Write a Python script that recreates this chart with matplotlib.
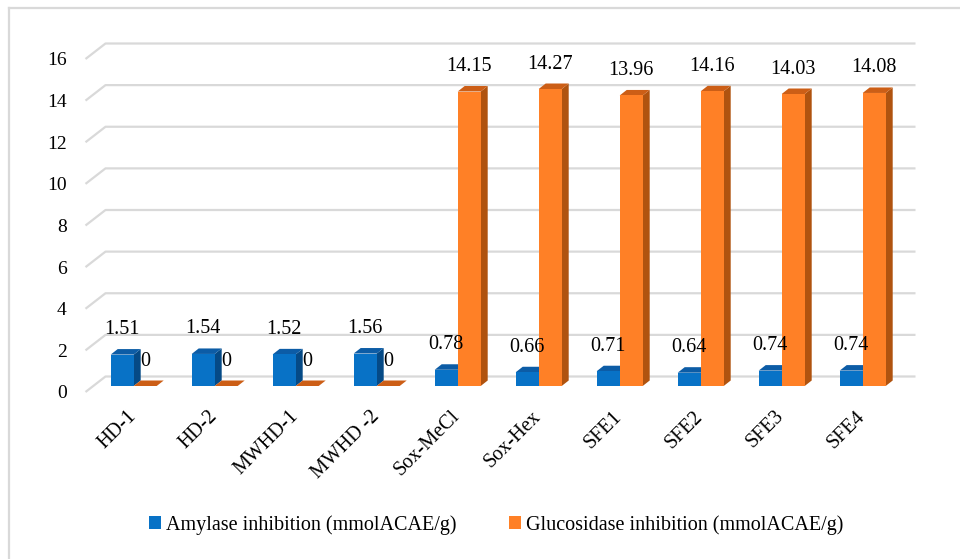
import numpy as np
import matplotlib
matplotlib.use("Agg")
import matplotlib.pyplot as plt
from matplotlib.patches import Polygon, Patch
from matplotlib.lines import Line2D
from matplotlib.transforms import offset_copy

plt.rcParams['font.family'] = ['Liberation Serif', 'DejaVu Serif']
plt.rcParams['font.size'] = 14

samples = ['HD-1', 'HD-2', 'MWHD-1', 'MWHD -2', 'Sox-MeCl', 'Sox-Hex',
           'SFE1', 'SFE2', 'SFE3', 'SFE4']
amylase = [1.51, 1.54, 1.52, 1.56, 0.78, 0.66, 0.71, 0.64, 0.74, 0.74]
glucosidase = [0, 0, 0, 0, 14.15, 14.27, 13.96, 14.16, 14.03, 14.08]
series_names = ['Amylase inhibition (mmolACAE/g)',
                'Glucosidase inhibition (mmolACAE/g)']
yticks = list(range(0, 17, 2))

# front, top and side shades for each series
shades = [('#0872C6', '#0C5CA6', '#054A86'),
          ('#FF8026', '#CC5E16', '#B0530F')]
grid_color = '#D9D9D9'

W, H = 960, 559
fig = plt.figure(figsize=(W / 100, H / 100), dpi=100)
ax = fig.add_axes([85.5 / W, 167 / H, 810 / W, 333 / H])
ax.set_xlim(-0.5, 9.5)
ax.set_ylim(0, 16)
for s in ax.spines.values():
    s.set_visible(False)
ax.set_xticks([])
ax.set_yticks(yticks)
ax.tick_params(axis='y', length=0, pad=13.5)


def P(x, y, dx=0.0, dy=0.0):
    # data point pushed back by (dx, dy) pixels of oblique depth
    px = ax.transData.transform((x, y)) + np.array([dx, dy])
    return ax.transData.inverted().transform(px)


wall = (20, 15.5)     # depth of the back wall
plane = (7.7, 6.0)    # depth where the bar fronts sit
thick = (7.0, 5.5)    # bar thickness

# gridlines: short oblique stroke on the floor edge, then along the back wall
for v in yticks:
    a = P(-0.5, v)
    b = P(-0.5, v, *wall)
    c = P(9.5, v, *wall)
    ax.plot([a[0], b[0], c[0]], [a[1], b[1], c[1]], color=grid_color,
            lw=1.6, clip_on=False, zorder=1, solid_capstyle='butt')

bw = 23 / 81
back = (plane[0] + thick[0], plane[1] + thick[1])
for i in range(len(samples)):
    for k, vals in enumerate([amylase, glucosidase]):
        v = vals[i]
        x0 = i - bw + k * bw
        x1 = x0 + bw
        front_c, top_c, side_c = shades[k]
        z = 2 + i * 0.1 + k * 0.05
        front = [P(x0, 0, *plane), P(x1, 0, *plane), P(x1, v, *plane), P(x0, v, *plane)]
        top = [P(x0, v, *plane), P(x1, v, *plane), P(x1, v, *back), P(x0, v, *back)]
        side = [P(x1, 0, *plane), P(x1, 0, *back), P(x1, v, *back), P(x1, v, *plane)]
        for pts, col in [(side, side_c), (top, top_c), (front, front_c)]:
            ax.add_patch(Polygon(pts, closed=True, facecolor=col, edgecolor='none',
                                 clip_on=False, zorder=z))
        lx, ly = P((x0 + x1) / 2, v, plane[0], plane[1] + 25)
        ax.text(lx, ly, f'{v:g}', ha='center', va='center', fontsize=14.5,
                clip_on=False, zorder=10)

# category labels under each pair of bars
lab_tf = offset_copy(ax.transData, fig=fig, x=plane[0] - 7, y=-15, units='dots')
for i, name in enumerate(samples):
    ax.text(i, 0, name, rotation=45, ha='right', va='top', rotation_mode='anchor',
            transform=lab_tf, fontsize=14.5)

handles = [Patch(facecolor=shades[k][0], edgecolor='none') for k in range(2)]
fig.legend(handles, series_names, loc='center', bbox_to_anchor=(0.517, 0.061),
           ncol=2, frameon=False, handlelength=0.6, handleheight=0.6,
           handletextpad=0.25, columnspacing=2.6, fontsize=14.5)

# chart area outline (top and left edges)
fig.add_artist(Line2D([9 / W, 9 / W], [0, 551 / H], color=grid_color, lw=1.6))
fig.add_artist(Line2D([9 / W, 1], [551 / H, 551 / H], color=grid_color, lw=1.6))

fig.savefig('out.png', dpi=100)
